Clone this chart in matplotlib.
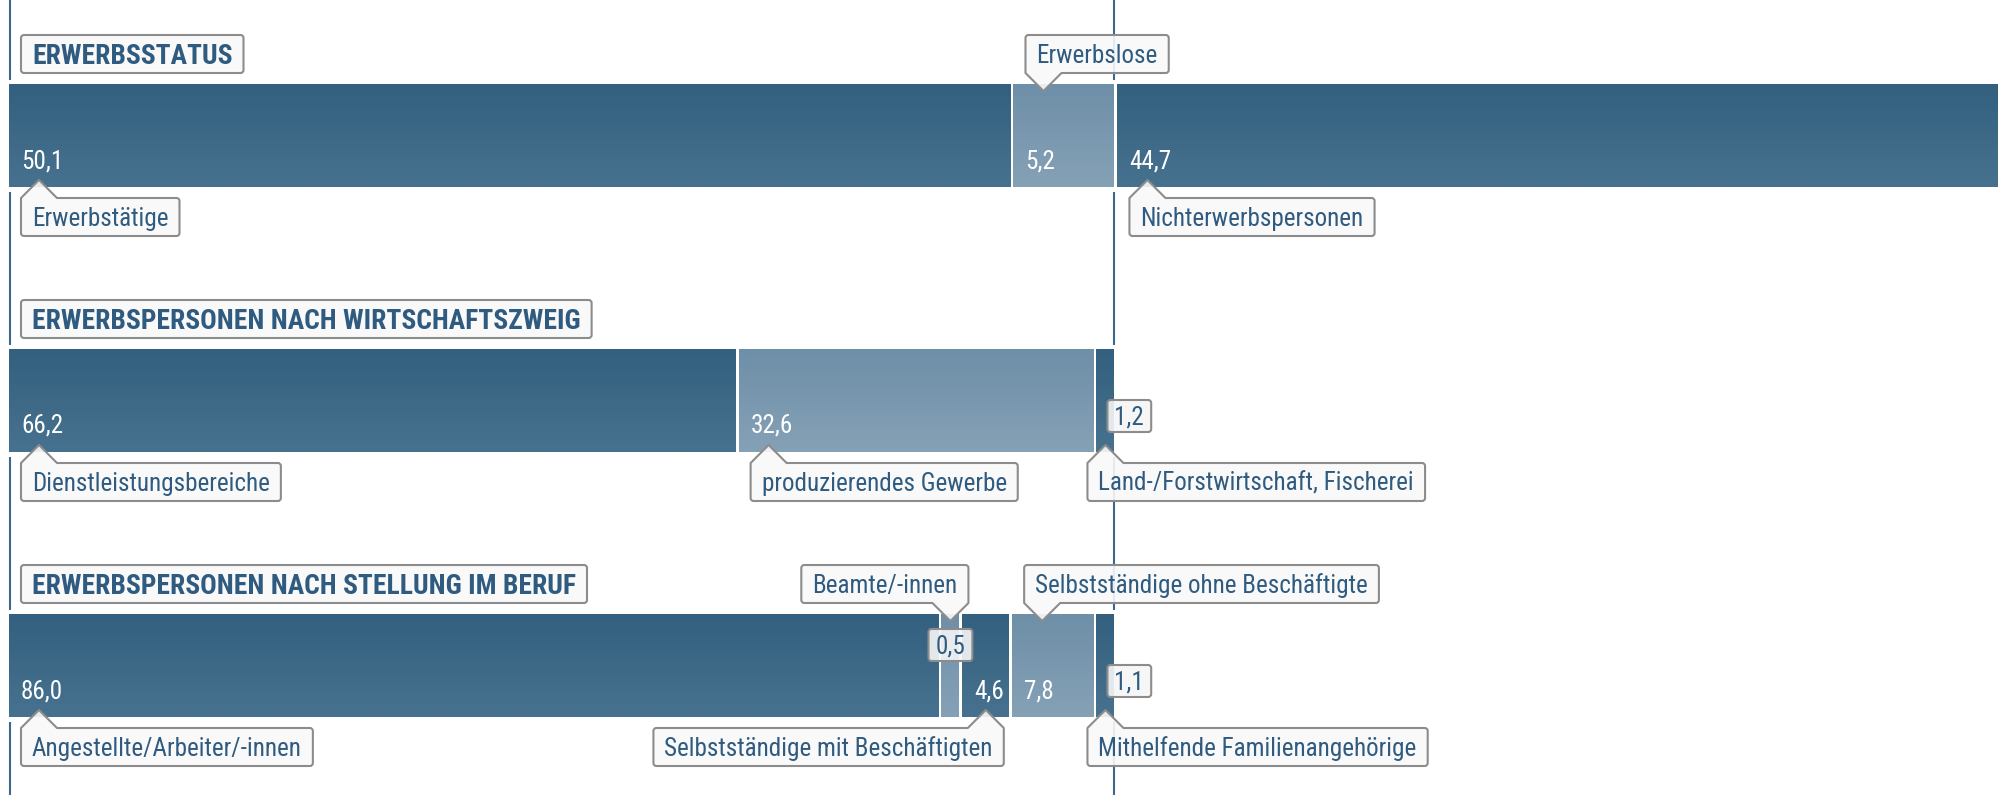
import matplotlib
matplotlib.use("Agg")
import matplotlib.pyplot as plt
import numpy as np
from matplotlib import font_manager as fm
from matplotlib.path import Path
from matplotlib.patches import PathPatch
from matplotlib.colors import to_rgb

# ---------------- data ----------------
row_titles = ["ERWERBSSTATUS",
              "ERWERBSPERSONEN NACH WIRTSCHAFTSZWEIG",
              "ERWERBSPERSONEN NACH STELLUNG IM BERUF"]
status_labels = ["Erwerbstätige", "Erwerbslose", "Nichterwerbspersonen"]
status_values = [50.1, 5.2, 44.7]
sector_labels = ["Dienstleistungsbereiche", "produzierendes Gewerbe",
                 "Land-/Forstwirtschaft, Fischerei"]
sector_values = [66.2, 32.6, 1.2]
job_labels = ["Angestellte/Arbeiter/-innen", "Beamte/-innen",
              "Selbstständige mit Beschäftigten",
              "Selbstständige ohne Beschäftigte",
              "Mithelfende Familienangehörige"]
job_values = [86.0, 0.5, 4.6, 7.8, 1.1]

# ---------------- fonts ----------------
names = {f.name for f in fm.fontManager.ttflist}
FAMILY = None
for cand in ["Roboto Condensed", "Liberation Sans Narrow", "Archivo Narrow",
             "Noto Sans Condensed", "Liberation Sans"]:
    if cand in names:
        FAMILY = cand
        break
if FAMILY is None:
    FAMILY = "DejaVu Sans"

# ---------------- figure ----------------
W_PX, H_PX, DPI = 1999, 795, 100
fig = plt.figure(figsize=(W_PX / DPI, H_PX / DPI), dpi=DPI)
ax = fig.add_axes([0, 0, 1, 1])
X0, X1 = -0.45, 99.55
ax.set_xlim(X0, X1)
ax.set_ylim(H_PX, 0)
ax.axis("off")
PXU = W_PX / (X1 - X0)
R = fig.canvas.get_renderer()


def to_px(xu):
    return (xu - X0) * PXU


def to_u(xp):
    return xp / PXU + X0


DARK = ("#33607f", "#47728f")
LIGHT = ("#6e8fa8", "#85a1b6")
TEXT = "#2f5b80"
LINE = "#3b6891"
BOX_FC = (0.975, 0.975, 0.975, 0.9)
BOX_EC = "#8c8c8c"

BAR_H = 103
ROW_TOPS = [84, 349, 614]
GAP_PX = 3
MIN_W = 1.05
PAD = 11
BOX_H = 38


def text_width(s, size, weight="normal"):
    t = ax.text(0, 0, s, fontsize=size, family=FAMILY, fontweight=weight)
    w = t.get_window_extent(R).width
    t.remove()
    return w


FS = 20 * 136.0 / text_width("Erwerbstätige", 20)
FS_B = 20 * 200.0 / text_width("ERWERBSSTATUS", 20, "bold")
CAP = FS * 100 / 72 * 0.70
CAP_B = FS_B * 100 / 72 * 0.70


def display_widths(values, total):
    v = np.array(values, float)
    w = v / v.sum() * total
    small = w < MIN_W
    if small.any():
        rest = total - MIN_W * small.sum()
        w[~small] *= rest / w[~small].sum()
        w[small] = MIN_W
    return w


def rounded_box_path(W, H, r, pointer):
    # local coords: origin top-left of box, y downward; pointer on top edge at left
    verts, codes = [], []
    if pointer:
        verts += [(0, 0), (18, -18), (36, 0), (W - r, 0)]
        codes += [Path.MOVETO, Path.LINETO, Path.LINETO, Path.LINETO]
    else:
        verts += [(r, 0), (W - r, 0)]
        codes += [Path.MOVETO, Path.LINETO]
    verts += [(W, 0), (W, r), (W, H - r), (W, H), (W - r, H), (r, H), (0, H), (0, H - r)]
    codes += [Path.CURVE3, Path.CURVE3, Path.LINETO, Path.CURVE3, Path.CURVE3,
              Path.LINETO, Path.CURVE3, Path.CURVE3]
    if pointer:
        verts += [(0, 0), (0, 0)]
        codes += [Path.LINETO, Path.CLOSEPOLY]
    else:
        verts += [(0, r), (0, 0), (r, 0), (r, 0)]
        codes += [Path.LINETO, Path.CURVE3, Path.CURVE3, Path.CLOSEPOLY]
    return np.array(verts, float), codes


def draw_box(text, ax_px, ay_px, sx, sy, H, pointer, size, weight, cap, fc=BOX_FC, pad=PAD):
    W = text_width(text, size, weight) + 2 * pad
    v, codes = rounded_box_path(W, H, 3, pointer)
    X = ax_px + sx * v[:, 0]
    Y = ay_px + sy * v[:, 1]
    path = Path(np.column_stack([to_u(X), Y]), codes)
    ax.add_patch(PathPatch(path, facecolor=fc, edgecolor=BOX_EC, lw=1.5, zorder=5,
                           joinstyle="round"))
    cx = ax_px + sx * W / 2
    top = ay_px if sy > 0 else ay_px - H
    ax.text(to_u(cx), top + H / 2 + cap / 2, text, ha="center", va="baseline",
            fontsize=size, family=FAMILY, fontweight=weight, color=TEXT, zorder=6)


def gradient_bar(left, width, top, shade):
    c0, c1 = np.array(to_rgb(shade[0])), np.array(to_rgb(shade[1]))
    bars = ax.barh(top + BAR_H / 2, width, left=left, height=BAR_H, color=shade[0],
                   linewidth=0, zorder=2)
    g = np.linspace(0, 1, 64)[:, None, None]
    img = c0 + (c1 - c0) * g
    im = ax.imshow(img, extent=(left, left + width, top + BAR_H, top), origin="upper",
                   aspect="auto", interpolation="bilinear", zorder=2.1)
    im.set_clip_path(bars.patches[0])


erwerbspersonen = status_values[0] + status_values[1]
rows = [
    dict(labels=status_labels, values=status_values, total=100.0,
         shades=[DARK, LIGHT, DARK], sides=["below", "above", "below"],
         align=["left", "left", "left"], vstyle=["in", "in", "in"]),
    dict(labels=sector_labels, values=sector_values, total=erwerbspersonen,
         shades=[DARK, LIGHT, DARK], sides=["below", "below", "below"],
         align=["left", "left", "left"], vstyle=["in", "in", "box"]),
    dict(labels=job_labels, values=job_values, total=erwerbspersonen,
         shades=[DARK, LIGHT, DARK, LIGHT, DARK],
         sides=["below", "above", "below", "above", "below"],
         align=["left", "right", "right", "left", "left"],
         vstyle=["in", "boxhigh", "in", "in", "box"]),
]

# vertical guide lines
for xl in [to_u(10), erwerbspersonen]:
    ys = [0] + [v for t in ROW_TOPS for v in (t - 4, t + BAR_H + 5)] + [H_PX]
    for a, b in zip(ys[0::2], ys[1::2]):
        ax.plot([xl, xl], [a, b], color=LINE, lw=1.5, solid_capstyle="butt", zorder=1)

for ri, row in enumerate(rows):
    top = ROW_TOPS[ri]
    bottom = top + BAR_H
    w = display_widths(row["values"], row["total"])
    lefts = np.concatenate([[0.0], np.cumsum(w)[:-1]])
    # title
    draw_box(row_titles[ri], 21, top - 11 - BOX_H, 1, 1, BOX_H, False, FS_B, "bold", CAP_B)
    for i, (lab, val) in enumerate(zip(row["labels"], row["values"])):
        gl = lefts[i] + (to_u(GAP_PX) - X0 if i > 0 else 0.0)
        width = lefts[i] + w[i] - gl
        gradient_bar(gl, width, top, row["shades"][i])
        gl_px = to_px(gl)
        c_px = to_px(gl + width / 2)
        vtxt = f"{val:.1f}".replace(".", ",")
        if row["vstyle"][i] == "in":
            ax.text(to_u(gl_px + 12), bottom - 19, vtxt, ha="left", va="baseline",
                    fontsize=FS, family=FAMILY, color="white", zorder=4)
        else:
            vw = text_width(vtxt, FS) + 14
            if row["vstyle"][i] == "box":
                bx, bb = c_px + 2, bottom - 20
            else:
                bx, bb = c_px - vw / 2, bottom - 56
            draw_box(vtxt, bx, bb - 32, 1, 1, 32, False, FS, "normal", CAP,
                     fc=(0.96, 0.965, 0.97, 0.9), pad=7)
        tip = min(gl_px + 30, c_px)
        if row["align"][i] == "left":
            axp, sx = tip - 18, 1
        else:
            axp, sx = tip + 18, -1
        if row["sides"][i] == "below":
            draw_box(lab, axp, bottom + 11, sx, 1, BOX_H, True, FS, "normal", CAP)
        else:
            draw_box(lab, axp, top - 11, sx, -1, BOX_H, True, FS, "normal", CAP)

ax.set_xlim(X0, X1)
ax.set_ylim(H_PX, 0)
fig.savefig("out.png", dpi=DPI, facecolor="white")
